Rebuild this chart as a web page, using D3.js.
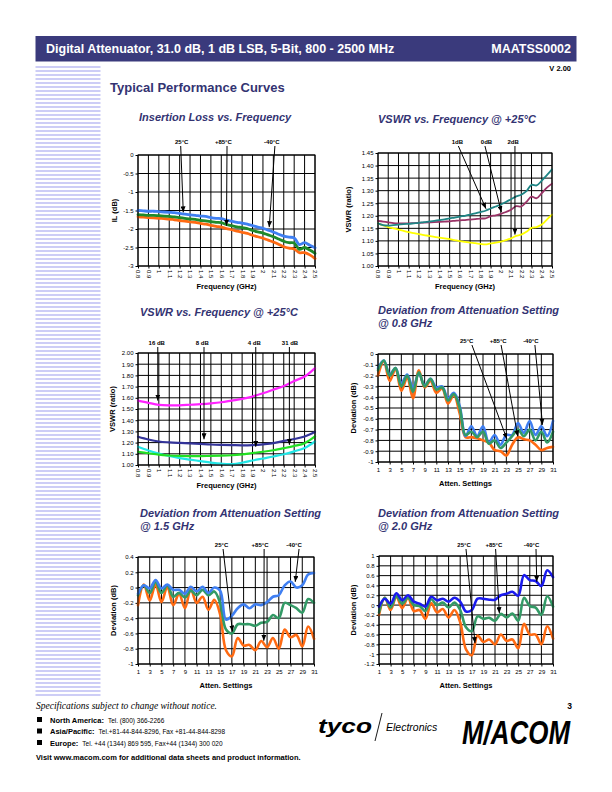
<!DOCTYPE html>
<html><head><meta charset="utf-8">
<script src="https://cdn.jsdelivr.net/npm/d3@7"></script>
<style>
body{margin:0;background:#fff;}
svg{display:block;font-family:"Liberation Sans",Arial,sans-serif;}
</style></head><body>
<svg id="page" width="612" height="792"></svg>
<script>
// ---------------- DATA ----------------
const freqFine = [0.80,0.85,0.90,0.95,1.00,1.05,1.10,1.15,1.20,1.25,1.30,1.35,1.40,1.45,1.50,1.55,1.60,1.65,1.70,1.75,1.80,1.85,1.90,1.95,2.00,2.05,2.10,2.15,2.20,2.25,2.30,2.35,2.40,2.45,2.50];
const freqCoarse = [0.8,0.9,1.0,1.1,1.2,1.3,1.4,1.5,1.6,1.7,1.8,1.9,2.0,2.1,2.2,2.3,2.4,2.5];
const freqTicks = [0.8,0.9,1.0,1.1,1.2,1.3,1.4,1.5,1.6,1.7,1.8,1.9,2.0,2.1,2.2,2.3,2.4,2.5];
const freqTickLabels = ["0.8","0.9","1","1.1","1.2","1.3","1.4","1.5","1.6","1.7","1.8","1.9","2","2.1","2.2","2.3","2.4","2.5"];

// Insertion loss (dB)
const ilBlue   = [-1.50,-1.51,-1.52,-1.52,-1.53,-1.54,-1.55,-1.56,-1.58,-1.60,-1.62,-1.63,-1.65,-1.66,-1.69,-1.71,-1.72,-1.76,-1.79,-1.82,-1.84,-1.87,-1.91,-1.95,-1.98,-2.03,-2.08,-2.14,-2.19,-2.22,-2.24,-2.42,-2.37,-2.44,-2.51];
const ilGreen  = [-1.61,-1.62,-1.63,-1.63,-1.64,-1.65,-1.66,-1.67,-1.69,-1.71,-1.73,-1.74,-1.77,-1.78,-1.80,-1.82,-1.83,-1.88,-1.91,-1.94,-1.96,-1.99,-2.04,-2.08,-2.11,-2.16,-2.21,-2.27,-2.33,-2.37,-2.38,-2.55,-2.50,-2.57,-2.66];
const ilOrange = [-1.67,-1.68,-1.69,-1.70,-1.71,-1.72,-1.73,-1.75,-1.77,-1.79,-1.81,-1.82,-1.85,-1.87,-1.90,-1.93,-1.95,-1.99,-2.02,-2.06,-2.09,-2.12,-2.17,-2.21,-2.25,-2.30,-2.35,-2.41,-2.48,-2.52,-2.54,-2.64,-2.64,-2.70,-2.80];
const ilTicks = [0,-0.5,-1,-1.5,-2,-2.5,-3];
const ilTickLabels = ["0","-0.5","-1","-1.5","-2","-2.5","-3"];

// VSWR, 0/1/2 dB states
const vswr1dB = [1.170,1.163,1.161,1.163,1.165,1.167,1.168,1.170,1.172,1.175,1.177,1.180,1.183,1.186,1.190,1.193,1.197,1.200,1.205,1.210,1.215,1.220,1.229,1.237,1.245,1.255,1.266,1.277,1.284,1.298,1.323,1.321,1.340,1.362,1.385];
const vswr0dB = [1.180,1.177,1.174,1.171,1.170,1.170,1.170,1.171,1.172,1.173,1.174,1.175,1.176,1.177,1.178,1.180,1.182,1.183,1.185,1.187,1.189,1.190,1.198,1.202,1.208,1.215,1.224,1.238,1.237,1.255,1.276,1.270,1.290,1.312,1.328];
const vswr2dB = [1.170,1.162,1.155,1.150,1.145,1.140,1.135,1.131,1.127,1.123,1.120,1.116,1.113,1.110,1.107,1.103,1.099,1.096,1.093,1.091,1.088,1.086,1.090,1.093,1.097,1.103,1.110,1.120,1.125,1.136,1.152,1.155,1.165,1.185,1.205];
const vswrATicks = [1.00,1.05,1.10,1.15,1.20,1.25,1.30,1.35,1.40,1.45];
const vswrATickLabels = ["1.00","1.05","1.10","1.15","1.20","1.25","1.30","1.35","1.40","1.45"];

// VSWR, 16/8/4/31 dB states
const vswr16dB = [1.575,1.555,1.537,1.532,1.533,1.538,1.543,1.550,1.560,1.575,1.590,1.612,1.640,1.672,1.705,1.750,1.790,1.865];
const vswr8dB  = [1.252,1.228,1.210,1.202,1.197,1.193,1.188,1.183,1.180,1.178,1.176,1.178,1.185,1.195,1.215,1.232,1.255,1.295];
const vswr4dB  = [1.118,1.105,1.092,1.085,1.081,1.080,1.080,1.081,1.083,1.087,1.095,1.107,1.118,1.132,1.150,1.170,1.195,1.255];
const vswr31dB = [1.163,1.130,1.103,1.080,1.062,1.048,1.035,1.022,1.012,1.008,1.020,1.040,1.058,1.076,1.096,1.122,1.152,1.210];
const vswrBTicks = [1.00,1.10,1.20,1.30,1.40,1.50,1.60,1.70,1.80,1.90,2.00];
const vswrBTickLabels = ["1.00","1.10","1.20","1.30","1.40","1.50","1.60","1.70","1.80","1.90","2.00"];

// Attenuation settings
const settings = [1,2,3,4,5,6,7,8,9,10,11,12,13,14,15,16,17,18,19,20,21,22,23,24,25,26,27,28,29,30,31];
const settingTicks = [1,3,5,7,9,11,13,15,17,19,21,23,25,27,29,31];
const settingTickLabels = ["1","3","5","7","9","11","13","15","17","19","21","23","25","27","29","31"];

// Deviation @ 0.8 GHz
const dev08Blue   = [-0.13,-0.06,-0.19,-0.13,-0.27,-0.19,-0.31,-0.18,-0.29,-0.23,-0.31,-0.30,-0.41,-0.36,-0.48,-0.76,-0.67,-0.76,-0.67,-0.82,-0.75,-0.84,-0.75,-0.75,-0.64,-0.73,-0.62,-0.75,-0.67,-0.76,-0.62];
const dev08Green  = [-0.15,-0.06,-0.20,-0.13,-0.30,-0.20,-0.35,-0.17,-0.30,-0.23,-0.33,-0.31,-0.43,-0.37,-0.50,-0.75,-0.72,-0.77,-0.72,-0.83,-0.80,-0.87,-0.82,-0.76,-0.70,-0.76,-0.70,-0.80,-0.72,-0.82,-0.72];
const dev08Orange = [-0.20,-0.07,-0.25,-0.14,-0.34,-0.22,-0.41,-0.15,-0.31,-0.25,-0.36,-0.32,-0.46,-0.38,-0.55,-0.77,-0.77,-0.78,-0.80,-0.82,-0.89,-0.90,-0.94,-0.84,-0.77,-0.79,-0.80,-0.84,-0.89,-0.87,-0.86];
const dev08Ticks = [0,-0.1,-0.2,-0.3,-0.4,-0.5,-0.6,-0.7,-0.8,-0.9,-1];
const dev08TickLabels = ["0","-0.1","-0.2","-0.3","-0.4","-0.5","-0.6","-0.7","-0.8","-0.9","-1"];

// Deviation @ 1.5 GHz
const dev15Blue   = [-0.08,0.03,-0.01,0.10,-0.01,0.04,-0.03,-0.03,-0.08,0.01,-0.05,0.01,-0.07,0.00,-0.04,-0.42,-0.37,-0.27,-0.22,-0.27,-0.22,-0.23,-0.19,-0.12,-0.10,0.03,0.08,0.00,0.03,0.17,0.19];
const dev15Green  = [-0.10,0.03,-0.07,0.07,-0.07,0.03,-0.12,-0.07,-0.13,-0.04,-0.10,-0.03,-0.10,-0.05,-0.20,-0.55,-0.60,-0.48,-0.48,-0.48,-0.50,-0.46,-0.45,-0.36,-0.40,-0.20,-0.23,-0.27,-0.33,-0.15,-0.20];
const dev15Orange = [-0.23,0.04,-0.17,0.04,-0.19,0.01,-0.23,-0.08,-0.27,-0.02,-0.20,-0.12,-0.29,-0.16,-0.35,-0.82,-0.90,-0.66,-0.76,-0.75,-0.82,-0.70,-0.78,-0.66,-0.80,-0.55,-0.65,-0.62,-0.77,-0.51,-0.67];
const dev15Ticks = [0.4,0.2,0,-0.2,-0.4,-0.6,-0.8,-1];
const dev15TickLabels = ["0.4","0.2","0","-0.2","-0.4","-0.6","-0.8","-1"];

// Deviation @ 2.0 GHz
const dev20Blue   = [-0.03,0.13,0.03,0.24,0.10,0.20,0.07,0.03,-0.03,0.17,0.10,0.13,0.07,0.15,0.07,-0.13,-0.10,0.13,0.13,0.11,0.11,0.20,0.23,0.27,0.19,0.61,0.51,0.49,0.39,0.71,0.57];
const dev20Green  = [-0.15,0.15,-0.05,0.18,0.03,0.15,0.00,-0.02,-0.12,0.12,0.00,0.05,-0.05,0.05,-0.10,-0.45,-0.53,-0.23,-0.28,-0.26,-0.32,-0.18,-0.25,-0.17,-0.32,0.15,-0.02,-0.05,-0.20,0.18,-0.03];
const dev20Orange = [-0.20,0.15,-0.10,0.17,-0.06,0.15,-0.12,-0.10,-0.28,0.04,-0.15,-0.08,-0.25,-0.10,-0.35,-0.90,-1.02,-0.62,-0.75,-0.70,-0.80,-0.60,-0.73,-0.70,-0.88,-0.38,-0.60,-0.60,-0.80,-0.43,-0.68];
const dev20Ticks = [1,0.8,0.6,0.4,0.2,0,-0.2,-0.4,-0.6,-0.8,-1,-1.2];
const dev20TickLabels = ["1","0.8","0.6","0.4","0.2","0","-0.2","-0.4","-0.6","-0.8","-1","-1.2"];

// Annotations (label x, arrow start x, arrow end x/y in data units)
const annIL   = [{t:"25°C",lx:1.22,sx:1.21,ex:1.235,ey:-1.55},{t:"+85°C",lx:1.62,sx:1.655,ex:1.65,ey:-1.91},{t:"-40°C",lx:2.085,sx:2.115,ex:2.06,ey:-1.95}];
const annVA   = [{t:"1dB",lx:1.575,sx:1.585,ex:1.855,ey:1.228},{t:"0dB",lx:1.86,sx:1.845,ex:2.005,ey:1.215},{t:"2dB",lx:2.12,sx:2.138,ex:2.138,ey:1.125}];
const annVB   = [{t:"16 dB",lx:0.98,sx:0.99,ex:0.99,ey:1.575},{t:"8 dB",lx:1.418,sx:1.434,ex:1.434,ey:1.229},{t:"4 dB",lx:1.917,sx:1.931,ex:1.931,ey:1.163},{t:"31 dB",lx:2.26,sx:2.254,ex:2.254,ey:1.18}];
const ann08   = [{t:"25°C",lx:16.2,sx:17.1,ex:23.1,ey:-0.787},{t:"+85°C",lx:21.6,sx:22.1,ex:24.96,ey:-0.763},{t:"-40°C",lx:27.2,sx:27.9,ex:29.2,ey:-0.655}];
const ann15   = [{t:"25°C",lx:15.24,sx:15.5,ex:17.1,ey:-0.575},{t:"+85°C",lx:21.8,sx:22.5,ex:22.45,ey:-0.696},{t:"-40°C",lx:27.6,sx:28.45,ex:27.8,ey:0.075}];
const ann20   = [{t:"25°C",lx:15.66,sx:16.0,ex:17.55,ey:-0.774},{t:"+85°C",lx:20.8,sx:21.1,ex:21.75,ey:-0.166},{t:"-40°C",lx:27.3,sx:28.07,ex:28.2,ey:0.474}];

// ---------------- PAGE ----------------
const svg = d3.select('#page');
const NAVY = '#3a3a7c';
const TITLE = '#333372';

const defs = svg.append('defs');
defs.append('marker').attr('id','arr').attr('viewBox','0 0 6 5')
  .attr('refX',6).attr('refY',2.5).attr('markerWidth',6).attr('markerHeight',5)
  .attr('markerUnits','userSpaceOnUse').attr('orient','auto')
  .append('path').attr('d','M0,0 L6,2.5 L0,5 Z').attr('fill','#000');

// header
svg.append('rect').attr('x',35.5).attr('y',36).attr('width',541).attr('height',25.5).attr('fill',NAVY);
svg.append('text').attr('x',46).attr('y',53).attr('fill','#fff').attr('font-weight','bold').attr('font-size',12.5)
  .text('Digital Attenuator, 31.0 dB, 1 dB LSB, 5-Bit, 800 - 2500 MHz');
svg.append('text').attr('x',571).attr('y',53).attr('fill','#fff').attr('font-weight','bold').attr('font-size',12.5)
  .attr('text-anchor','end').text('MAATSS0002');
svg.append('text').attr('x',571).attr('y',71).attr('fill','#000').attr('font-weight','bold').attr('font-size',7.5)
  .attr('text-anchor','end').text('V 2.00');

// stripes
svg.append('g').selectAll('rect').data(d3.range(66,698,4)).join('rect')
  .attr('x',35.5).attr('y',d=>d).attr('width',65).attr('height',2).attr('fill','#cdcdf6');

svg.append('text').attr('x',110).attr('y',92).attr('fill',TITLE).attr('font-weight','bold').attr('font-size',13)
  .text('Typical Performance Curves');

function title(x, y, lines){
  lines.forEach((l,i)=>svg.append('text').attr('x',x).attr('y',y+i*13).attr('fill',TITLE)
    .attr('font-weight','bold').attr('font-style','italic').attr('font-size',11).text(l));
}
title(139,121,['Insertion Loss vs. Frequency']);
title(378,123,['VSWR vs. Frequency @ +25°C']);
title(140,316,['VSWR vs. Frequency @ +25°C']);
title(378,314,['Deviation from Attenuation Setting','@ 0.8 GHz']);
title(140,517,['Deviation from Attenuation Setting','@ 1.5 GHz']);
title(378,517,['Deviation from Attenuation Setting','@ 2.0 GHz']);

function chart(c){
  const g = svg.append('g');
  const x = d3.scaleLinear().domain(c.xDomain).range([c.left,c.right]);
  const y = d3.scaleLinear().domain(c.yDomain).range([c.bottom,c.top]);
  g.append('g').selectAll('line').data(c.xTicks).join('line')
    .attr('x1',d=>x(d)).attr('x2',d=>x(d)).attr('y1',c.top).attr('y2',c.bottom)
    .attr('stroke','#000').attr('stroke-width',1);
  g.append('g').selectAll('line').data(c.yTicks).join('line')
    .attr('x1',c.left).attr('x2',c.right).attr('y1',d=>y(d)).attr('y2',d=>y(d))
    .attr('stroke','#000').attr('stroke-width',1);
  const ya = g.append('g').attr('transform',`translate(${c.left},0)`)
    .call(d3.axisLeft(y).tickValues(c.yTicks).tickFormat((d,i)=>c.yLabels[i]).tickSize(2.5).tickPadding(2));
  ya.select('.domain').remove();
  ya.selectAll('text').attr('font-size',6).attr('font-family','Liberation Sans, Arial, sans-serif').attr('fill','#000');
  const xa = g.append('g').attr('transform',`translate(0,${c.bottom})`)
    .call(d3.axisBottom(x).tickValues(c.xTicks).tickFormat((d,i)=>c.xLabels[i]).tickSize(2.5).tickPadding(3));
  xa.select('.domain').remove();
  xa.selectAll('text').attr('font-size',6).attr('font-family','Liberation Sans, Arial, sans-serif').attr('fill','#000');
  if(c.rotate){
    xa.selectAll('text').attr('transform','rotate(90)').attr('text-anchor','start')
      .attr('x',4).attr('y',0).attr('dy','0.35em');
  }
  const line = d3.line().x(d=>x(d[0])).y(d=>y(d[1])).curve(d3.curveCatmullRom.alpha(0.5));
  c.series.forEach(s=>{
    g.append('path').datum(c.xs.map((v,i)=>[v,s.v[i]])).attr('d',line)
      .attr('fill','none').attr('stroke',s.color).attr('stroke-width',c.lw)
      .attr('stroke-linejoin','round').attr('stroke-linecap','round');
  });
  g.append('rect').attr('x',c.left).attr('y',c.top).attr('width',c.right-c.left).attr('height',c.bottom-c.top)
    .attr('fill','none').attr('stroke','#000').attr('stroke-width',1);
  g.append('text').attr('x',(c.left+c.right)/2).attr('y',c.xTitleY).attr('text-anchor','middle')
    .attr('font-weight','bold').attr('font-size',7.5).text(c.xTitle);
  g.append('text').attr('transform',`translate(${c.yTitleX},${(c.top+c.bottom)/2}) rotate(-90)`)
    .attr('text-anchor','middle').attr('font-weight','bold').attr('font-size',7.5).text(c.yTitle);
  c.ann.forEach(a=>{
    g.append('text').attr('x',x(a.lx)).attr('y',c.annY).attr('text-anchor','middle')
      .attr('font-weight','bold').attr('font-size',6).text(a.t);
    g.append('line').attr('x1',x(a.sx)).attr('y1',c.annY+2).attr('x2',x(a.ex)).attr('y2',y(a.ey))
      .attr('stroke','#000').attr('stroke-width',1).attr('marker-end','url(#arr)');
  });
}

const BLUE='#3f7ff2', GREEN='#1f8a2a', ORANGE='#ff6a12', SEAGREEN='#339a66';

chart({left:138,right:315,top:155,bottom:266,xDomain:[0.8,2.5],yDomain:[-3,0],
  xTicks:freqTicks,xLabels:freqTickLabels,yTicks:ilTicks,yLabels:ilTickLabels,rotate:true,
  xs:freqFine,lw:2.8,series:[{v:ilOrange,color:ORANGE},{v:ilGreen,color:GREEN},{v:ilBlue,color:BLUE}],
  xTitle:'Frequency (GHz)',xTitleY:288.5,yTitle:'IL (dB)',yTitleX:117,ann:annIL,annY:144});

chart({left:378,right:552,top:153,bottom:266,xDomain:[0.8,2.5],yDomain:[1.0,1.45],
  xTicks:freqTicks,xLabels:freqTickLabels,yTicks:vswrATicks,yLabels:vswrATickLabels,rotate:true,
  xs:freqFine,lw:1.8,series:[{v:vswr2dB,color:'#ffff00'},{v:vswr0dB,color:'#993366'},{v:vswr1dB,color:'#1f8585'}],
  xTitle:'Frequency (GHz)',xTitleY:288.5,yTitle:'VSWR (ratio)',yTitleX:351,ann:annVA,annY:144});

chart({left:138,right:315,top:353,bottom:465,xDomain:[0.8,2.5],yDomain:[1.0,2.0],
  xTicks:freqTicks,xLabels:freqTickLabels,yTicks:vswrBTicks,yLabels:vswrBTickLabels,rotate:true,
  xs:freqCoarse,lw:2.2,series:[{v:vswr31dB,color:'#22e6e6'},{v:vswr4dB,color:'#22e022'},{v:vswr8dB,color:'#333399'},{v:vswr16dB,color:'#ff22ff'}],
  xTitle:'Frequency (GHz)',xTitleY:487.5,yTitle:'VSWR (ratio)',yTitleX:115,ann:annVB,annY:345});

chart({left:378,right:553,top:354,bottom:462,xDomain:[1,31],yDomain:[-1,0],
  xTicks:settingTicks,xLabels:settingTickLabels,yTicks:dev08Ticks,yLabels:dev08TickLabels,rotate:false,
  xs:settings,lw:2.6,series:[{v:dev08Orange,color:ORANGE},{v:dev08Blue,color:BLUE},{v:dev08Green,color:SEAGREEN}],
  xTitle:'Atten. Settings',xTitleY:486,yTitle:'Deviation (dB)',yTitleX:356,ann:ann08,annY:343});

chart({left:138,right:314,top:557,bottom:664,xDomain:[1,31],yDomain:[-1,0.4],
  xTicks:settingTicks,xLabels:settingTickLabels,yTicks:dev15Ticks,yLabels:dev15TickLabels,rotate:false,
  xs:settings,lw:2.6,series:[{v:dev15Orange,color:ORANGE},{v:dev15Green,color:SEAGREEN},{v:dev15Blue,color:BLUE}],
  xTitle:'Atten. Settings',xTitleY:688,yTitle:'Deviation (dB)',yTitleX:116,ann:ann15,annY:547});

chart({left:379,right:553,top:556,bottom:664,xDomain:[1,31],yDomain:[-1.2,1],
  xTicks:settingTicks,xLabels:settingTickLabels,yTicks:dev20Ticks,yLabels:dev20TickLabels,rotate:false,
  xs:settings,lw:2.6,series:[{v:dev20Orange,color:ORANGE},{v:dev20Green,color:SEAGREEN},{v:dev20Blue,color:'#1a1aee'}],
  xTitle:'Atten. Settings',xTitleY:688,yTitle:'Deviation (dB)',yTitleX:356,ann:ann20,annY:547});

// ---------------- FOOTER ----------------
svg.append('text').attr('x',36).attr('y',709).attr('font-family','Liberation Serif, Times New Roman, serif')
  .attr('font-style','italic').attr('font-size',9.5).text('Specifications subject to change without notice.');
const rows = [
  {b:'North America:', t:'Tel. (800) 366-2266', y:722.5},
  {b:'Asia/Pacific:', t:'Tel.+81-44-844-8296,  Fax +81-44-844-8298', y:734},
  {b:'Europe:', t:'Tel. +44 (1344) 869 595,  Fax+44 (1344) 300 020', y:745.5}
];
rows.forEach(r=>{
  svg.append('rect').attr('x',37).attr('y',r.y-5.5).attr('width',5).attr('height',5).attr('fill','#000');
  const t = svg.append('text').attr('x',50).attr('y',r.y).attr('font-size',7.5);
  t.append('tspan').attr('font-weight','bold').text(r.b);
  t.append('tspan').attr('font-size',6.5).attr('dx',4).text(r.t);
});
svg.append('text').attr('x',36).attr('y',760).attr('font-weight','bold').attr('font-size',7.5)
  .text('Visit www.macom.com for additional data sheets and product information.');
svg.append('text').attr('x',572).attr('y',709).attr('font-weight','bold').attr('font-size',8.5).attr('text-anchor','end').text('3');

// logos
svg.append('text').attr('x',318).attr('y',733).attr('font-weight','bold').attr('font-style','italic')
  .attr('font-size',21).attr('textLength',54).attr('lengthAdjust','spacingAndGlyphs').text('tyco');
svg.append('line').attr('x1',382).attr('y1',713).attr('x2',375).attr('y2',741).attr('stroke','#000').attr('stroke-width',0.9);
svg.append('text').attr('x',386).attr('y',731).attr('font-style','italic').attr('font-size',10.5).text('Electronics');
svg.append('text').attr('x',462).attr('y',744).attr('font-weight','bold').attr('font-style','italic')
  .attr('font-size',34).attr('textLength',108).attr('lengthAdjust','spacingAndGlyphs').text('M/ACOM');
</script>
</body></html>
